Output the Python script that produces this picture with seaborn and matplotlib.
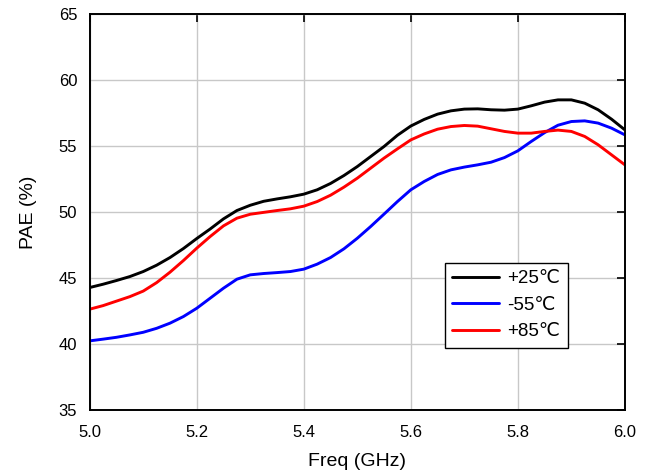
import numpy as np
import pandas as pd
import matplotlib
matplotlib.use("Agg")
import matplotlib.pyplot as plt
import seaborn as sns

# Frequency points (GHz) and PAE (%)
freq = [5.000, 5.025, 5.050, 5.075, 5.100, 5.125, 5.150, 5.175, 5.200, 5.225,
        5.250, 5.275, 5.300, 5.325, 5.350, 5.375, 5.400, 5.425, 5.450, 5.475,
        5.500, 5.525, 5.550, 5.575, 5.600, 5.625, 5.650, 5.675, 5.700, 5.725,
        5.750, 5.775, 5.800, 5.825, 5.850, 5.875, 5.900, 5.925, 5.950, 5.975,
        6.000]
pae_p25 = [44.27, 44.52, 44.80, 45.10, 45.48, 45.96, 46.54, 47.22, 47.98, 48.70,
           49.47, 50.10, 50.50, 50.80, 50.98, 51.14, 51.34, 51.67, 52.15, 52.75,
           53.43, 54.19, 54.95, 55.80, 56.50, 57.00, 57.40, 57.65, 57.78, 57.80,
           57.73, 57.70, 57.78, 58.03, 58.31, 58.48, 58.48, 58.23, 57.73, 57.02,
           56.21]
pae_m55 = [40.23, 40.36, 40.50, 40.68, 40.88, 41.18, 41.57, 42.07, 42.70, 43.46,
           44.22, 44.90, 45.23, 45.33, 45.40, 45.48, 45.66, 46.04, 46.54, 47.20,
           48.00, 48.89, 49.83, 50.78, 51.67, 52.30, 52.83, 53.18, 53.39, 53.56,
           53.76, 54.11, 54.62, 55.33, 56.00, 56.56, 56.84, 56.89, 56.72, 56.34,
           55.83]
pae_p85 = [42.63, 42.90, 43.24, 43.58, 44.00, 44.64, 45.43, 46.31, 47.25, 48.13,
           48.94, 49.52, 49.82, 49.96, 50.10, 50.23, 50.43, 50.78, 51.26, 51.87,
           52.55, 53.31, 54.07, 54.77, 55.45, 55.90, 56.26, 56.46, 56.54, 56.49,
           56.29, 56.09, 55.96, 55.96, 56.09, 56.19, 56.09, 55.71, 55.08, 54.32,
           53.56]
labels = ["+25℃", "-55℃", "+85℃"]
colors = ["black", "blue", "red"]

df = pd.concat([
    pd.DataFrame({"freq": freq, "pae": pae_p25, "temp": labels[0]}),
    pd.DataFrame({"freq": freq, "pae": pae_m55, "temp": labels[1]}),
    pd.DataFrame({"freq": freq, "pae": pae_p85, "temp": labels[2]}),
])

sns.set_theme(style="white")
plt.rcParams["font.family"] = ["Liberation Sans", "DejaVu Sans"]
plt.rcParams["text.color"] = "black"
plt.rcParams["axes.labelcolor"] = "black"

fig = plt.figure(figsize=(6.55, 4.75), dpi=100)
ax = fig.add_axes([0.137, 0.137, 0.817, 0.834])

sns.lineplot(data=df, x="freq", y="pae", hue="temp", palette=dict(zip(labels, colors)),
             linewidth=2.1, ax=ax)

ax.set_xlim(5.0, 6.0)
ax.set_ylim(35, 65)
ax.set_xticks(np.arange(5.0, 6.01, 0.2))
ax.set_yticks(np.arange(35, 66, 5))
ax.xaxis.set_major_formatter(matplotlib.ticker.FormatStrFormatter("%.1f"))
ax.grid(True, color="#c8c8c8", linewidth=1.0)
ax.tick_params(direction="in", length=6, width=1.2, colors="black", labelsize=12,
               top=True, right=True, pad=11)
ax.tick_params(axis="y", pad=9)
for s in ax.spines.values():
    s.set_color("black")
    s.set_linewidth(1.4)

ax.set_xlabel("Freq (GHz)", fontsize=14, labelpad=9)
ax.set_ylabel("PAE (%)", fontsize=14, labelpad=16)

leg = ax.legend(loc="lower right", bbox_to_anchor=(0.8935, 0.157), borderaxespad=0,
                prop={"family": ["Liberation Sans", "DejaVu Sans"], "size": 13.5},
                frameon=True, fancybox=False, framealpha=1, edgecolor="black",
                handlelength=2.5, handletextpad=0.45, labelspacing=0.5,
                borderpad=0.4, title=None)
leg.get_frame().set_linewidth(1.0)

fig.savefig("out.png", dpi=100)
